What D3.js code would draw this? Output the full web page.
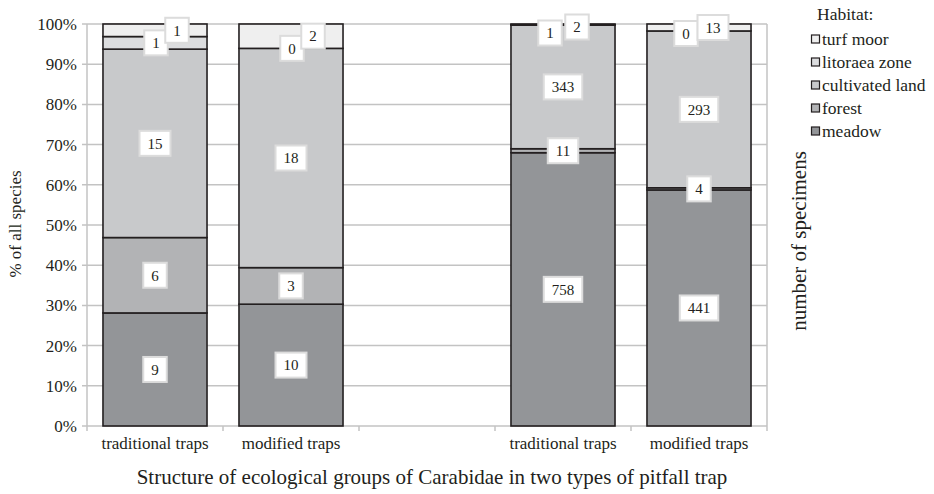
<!DOCTYPE html>
<html>
<head>
<meta charset="utf-8">
<script src="https://cdn.jsdelivr.net/npm/d3@7"></script>
<style>
  html, body { margin: 0; padding: 0; background: #fff; }
  svg, svg text { font-family: "Liberation Serif", "DejaVu Serif", "Times New Roman", serif; }
</style>
</head>
<body>
<svg id="chart" width="934" height="494"></svg>
<script>
// Habitat groups, stacked from the bottom of each bar upward
const habitats = ["meadow", "forest", "cultivated land", "litoraea zone", "turf moor"];
const trapTypes = ["traditional traps", "modified traps"];

// Number of species per habitat
const speciesTraditional = [9, 6, 15, 1, 1];
const speciesModified = [10, 3, 18, 0, 2];

// Number of specimens per habitat
const specimensTraditional = [758, 11, 343, 1, 2];
const specimensModified = [441, 4, 293, 0, 13];

// Category slots along the x axis (the middle slot is left empty)
const slots = ["sp-trad", "sp-mod", "gap", "spec-trad", "spec-mod"];
const slotLabels = [trapTypes[0], trapTypes[1], "", trapTypes[0], trapTypes[1]];

const yTicks = [0, 0.1, 0.2, 0.3, 0.4, 0.5, 0.6, 0.7, 0.8, 0.9, 1.0];

const habitatColors = ["#939598", "#b2b3b5", "#c8c9cb", "#dcdddf", "#efefef"];

const bars = [
  { slot: "sp-trad", values: speciesTraditional },
  { slot: "sp-mod", values: speciesModified },
  { slot: "spec-trad", values: specimensTraditional },
  { slot: "spec-mod", values: specimensModified }
];

const FONT = "'Liberation Serif', 'DejaVu Serif', 'Times New Roman', serif";
const svg = d3.select("#chart").attr("font-family", FONT);
const plot = { left: 87, right: 767, top: 24, bottom: 426 };

const x = d3.scaleBand().domain(slots).range([plot.left, plot.right]).padding(0);
const y = d3.scaleLinear().domain([0, 1]).range([plot.bottom, plot.top]);
const barWidth = x.bandwidth() * 0.765;

const gridColor = "#c3c3c3";
const textColor = "#231f20";

// Horizontal gridlines with short ticks on the left
svg.append("g").selectAll("line").data(yTicks).join("line")
  .attr("x1", plot.left - 5).attr("x2", plot.right)
  .attr("y1", d => y(d)).attr("y2", d => y(d))
  .attr("stroke", gridColor).attr("stroke-width", 1.5);

// Left and right borders of the plot
svg.append("line").attr("x1", plot.left).attr("x2", plot.left)
  .attr("y1", plot.top).attr("y2", plot.bottom + 5)
  .attr("stroke", gridColor).attr("stroke-width", 1.5);
svg.append("line").attr("x1", plot.right).attr("x2", plot.right)
  .attr("y1", plot.top).attr("y2", plot.bottom + 5)
  .attr("stroke", gridColor).attr("stroke-width", 1.5);

// Category tick marks between the slots
svg.append("g").selectAll("line").data(slots.slice(1)).join("line")
  .attr("x1", d => x(d)).attr("x2", d => x(d))
  .attr("y1", plot.bottom).attr("y2", plot.bottom + 5)
  .attr("stroke", gridColor).attr("stroke-width", 1.5);

// Y axis tick labels
svg.append("g").selectAll("text").data(yTicks).join("text")
  .attr("font-family", FONT)
  .attr("x", plot.left - 10).attr("y", d => y(d))
  .attr("dy", "0.35em").attr("text-anchor", "end")
  .attr("font-size", 17).attr("fill", textColor)
  .text(d => d3.format(".0%")(d));

// Category labels
svg.append("g").selectAll("text").data(slots.map((s, i) => ({ s, label: slotLabels[i] })).filter(d => d.label)).join("text")
  .attr("font-family", FONT)
  .attr("x", d => x(d.s) + x.bandwidth() / 2).attr("y", 449)
  .attr("text-anchor", "middle").attr("font-size", 17).attr("fill", textColor)
  .text(d => d.label);

// Stacked bars, each normalised to 100%
const labelBoxes = [];
bars.forEach(bar => {
  const total = d3.sum(bar.values);
  let acc = 0;
  const segs = bar.values.map((v, i) => {
    const s = { habitat: i, value: v, y0: acc / total, y1: (acc + v) / total };
    acc += v;
    return s;
  });
  const cx = x(bar.slot) + x.bandwidth() / 2;
  const g = svg.append("g");
  g.selectAll("rect").data(segs).join("rect")
    .attr("x", cx - barWidth / 2).attr("width", barWidth)
    .attr("y", d => y(d.y1)).attr("height", d => y(d.y0) - y(d.y1))
    .attr("fill", d => habitatColors[d.habitat])
    .attr("stroke", "#231f20").attr("stroke-width", 1.6);

  // Value labels centred on their segments; the two thin top segments are spread apart
  const centreY = segs.map(d => y((d.y0 + d.y1) / 2));
  const turfY = Math.max(centreY[4], plot.top + 3);
  const litY = Math.max(centreY[3], turfY + 6);
  const crowded = (litY - turfY) < 10;
  segs.forEach((d, i) => {
    let lx = cx, ly = centreY[i];
    if (i === 4) { ly = turfY; lx = cx + (crowded ? 14 : 22); }
    if (i === 3) { ly = litY; lx = cx + (crowded ? -13 : 1); }
    labelBoxes.push({ x: lx, y: ly, text: String(d.value) });
  });
});

// Label boxes drawn last so they sit above every bar
const lab = svg.append("g").selectAll("g").data(labelBoxes).join("g")
  .attr("transform", d => `translate(${d.x},${d.y})`);
lab.each(function (d) {
  const g = d3.select(this);
  const t = g.append("text").attr("font-family", FONT)
    .attr("text-anchor", "middle").attr("dy", "0.35em")
    .attr("font-size", 15).attr("fill", textColor).text(d.text);
  const w = t.node().getComputedTextLength() + 16;
  g.insert("rect", "text").attr("x", -w / 2).attr("y", -12.5)
    .attr("width", w).attr("height", 25)
    .attr("fill", "#fff").attr("stroke", "#dcdcdc").attr("stroke-width", 2);
});

// Axis titles
svg.append("text").attr("font-family", FONT)
  .attr("transform", "translate(21,224) rotate(-90)")
  .attr("text-anchor", "middle").attr("font-size", 17).attr("fill", textColor)
  .text("% of all species");
svg.append("text").attr("font-family", FONT)
  .attr("transform", "translate(806,241) rotate(-90)")
  .attr("text-anchor", "middle").attr("font-size", 21).attr("fill", textColor)
  .text("number of specimens");
svg.append("text").attr("font-family", FONT)
  .attr("x", 432).attr("y", 484)
  .attr("text-anchor", "middle").attr("font-size", 21).attr("fill", textColor)
  .text("Structure of ecological groups of Carabidae in two types of pitfall trap");

// Legend, listed from the top segment down
const legend = svg.append("g");
legend.append("text").attr("font-family", FONT)
  .attr("x", 817).attr("y", 20)
  .attr("font-size", 17.5).attr("fill", textColor).text("Habitat:");
const legendOrder = habitats.map((h, i) => i).reverse();
const rows = legend.selectAll("g.row").data(legendOrder).join("g")
  .attr("transform", (d, i) => `translate(811,${39 + i * 23})`);
rows.append("rect").attr("x", 0.5).attr("y", -4).attr("width", 8).attr("height", 8)
  .attr("fill", d => habitatColors[d]).attr("stroke", "#231f20").attr("stroke-width", 1.2);
rows.append("text").attr("font-family", FONT)
  .attr("x", 11).attr("dy", "0.35em")
  .attr("font-size", 17.5).attr("fill", textColor).text(d => habitats[d]);
</script>
</body>
</html>
